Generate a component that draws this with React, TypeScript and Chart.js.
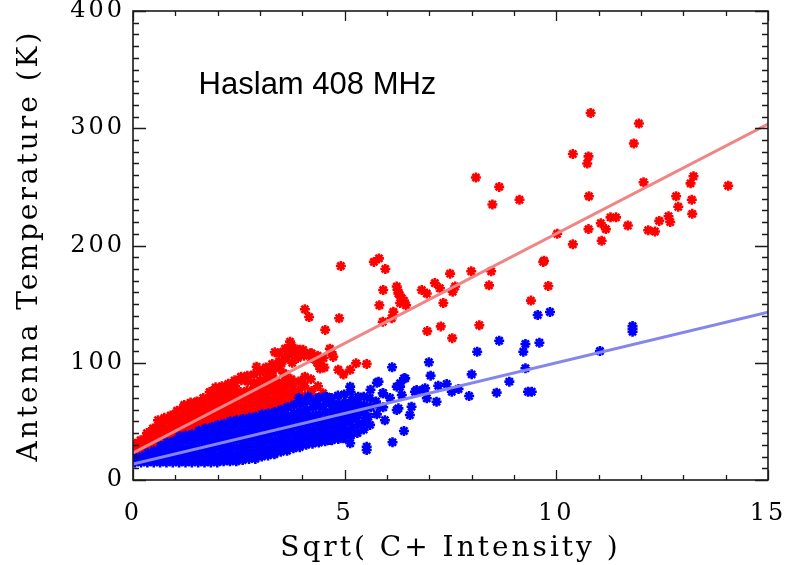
import { useEffect, useRef } from 'react';
import { Chart, registerables } from 'chart.js';

Chart.register(...registerables);

// ---- axis definitions ----
const xTickLabels = [0, 5, 10, 15];
const yTickLabels = [0, 100, 200, 300, 400];
const X_MIN = 0, X_MAX = 15, X_MAJOR = 5, X_MINOR = 1;
const Y_MIN = 0, Y_MAX = 400, Y_MAJOR = 100, Y_MINOR = 10;
const xTitle = 'Sqrt( C+ Intensity )';
const yTitle = 'Antenna Temperature (K)';
const plotLabel = 'Haslam 408 MHz';
const plotLabelPos = [1.55, 329];

// ---- fit lines ----
const redFit = [[0, 23], [15, 303.5]];
const blueFit = [[0, 13.6], [15, 143]];

// ---- red series (dense core, read column by column) ----
const redCore = [
  [0.04,20],[0.06,26],[0.05,31],
  [0.17,23],[0.2,29],[0.18,34],
  [0.31,25],[0.34,31],[0.32,37],[0.33,40],
  [0.45,27],[0.48,33],[0.46,39],[0.47,44],
  [0.59,29],[0.62,35],[0.6,41],[0.61,47],[0.59,51],
  [0.74,32],[0.77,38],[0.75,44],[0.76,50],[0.74,53],
  [0.89,34],[0.92,40],[0.9,46],[0.91,52],[0.89,55],
  [1.04,36],[1.07,42],[1.05,48],[1.06,54],[1.04,59],
  [1.19,38],[1.22,44],[1.2,50],[1.21,56],[1.19,62],[1.21,64],
  [1.34,40],[1.37,46],[1.35,52],[1.36,58],[1.34,64],[1.36,66],
  [1.49,42],[1.52,48],[1.5,54],[1.51,60],[1.49,66],[1.51,67],
  [1.64,43],[1.67,49],[1.65,55],[1.66,61],[1.64,67],[1.66,70],
  [1.79,45],[1.82,51],[1.8,57],[1.81,63],[1.79,69],[1.81,75],
  [1.94,46],[1.97,52],[1.95,58],[1.96,64],[1.94,70],[1.96,76],[1.95,79],
  [2.09,47],[2.12,53],[2.1,59],[2.11,65],[2.09,71],[2.11,77],[2.1,80],
  [2.24,49],[2.27,55],[2.25,61],[2.26,67],[2.24,73],[2.26,79],[2.25,82],
  [2.39,50],[2.42,56],[2.4,62],[2.41,68],[2.39,74],[2.41,80],[2.4,85],
  [2.54,51],[2.57,57],[2.55,63],[2.56,69],[2.54,75],[2.56,85],[2.55,88],
  [2.69,52],[2.72,58],[2.7,64],[2.71,70],[2.69,76],[2.71,84],[2.7,89],
  [2.84,53],[2.87,59],[2.85,65],[2.86,71],[2.84,77],[2.86,83],[2.85,90],
  [2.99,55],[3.02,61],[3,67],[3.01,73],[2.99,79],[3.01,85],[3,92],
  [3.14,56],[3.17,62],[3.15,68],[3.16,74],[3.14,80],[3.16,86],[3.15,92],[3.14,96],
  [3.29,57],[3.32,63],[3.3,69],[3.31,75],[3.29,81],[3.31,87],[3.3,93],[3.29,99],
  [3.44,59],[3.47,65],[3.45,71],[3.46,77],[3.44,83],[3.46,95],[3.45,101],[3.44,108],
  [3.59,60],[3.62,66],[3.6,72],[3.61,78],[3.59,84],[3.61,90],[3.6,104],[3.59,112],
  [3.74,62],[3.77,68],[3.75,74],[3.76,80],[3.74,86],[3.76,100],[3.75,108],[3.74,115],
  [3.89,64],[3.92,70],[3.9,76],[3.91,84],[3.89,104],[3.91,110],
  [4.04,66],[4.07,72],[4.05,80],[4.06,88],[4.04,106],
  [4.19,68],[4.22,76],[4.2,86],[4.21,104],[4.19,108],
  [4.34,70],[4.37,80],[4.35,100],[4.36,106],
  [4.49,74],[4.52,96],[4.5,104],
];

// ---- red series (scattered points) ----
const redScatter = [
  [10.81,313],[11.95,304],[10.39,278],[10.76,276],[10.73,270],[11.83,287],[10.77,242],[12.06,254],
  [10.02,210],[9.69,186],[10.39,201],[10.76,214],[11.05,219],[11.17,214],[11.07,204],[11.28,224],
  [11.41,224],[11.69,217],[12.17,213],[12.33,212],[12.43,221],[12.65,225],[12.69,220],[12.83,242],
  [12.88,233],[13.17,253],[13.24,259],[13.2,239],[13.21,227],[14.06,251],
  [8.1,258],[8.65,250],[8.49,235],[9.13,239],[4.91,182.5],[5.69,186],[5.81,189],[5.96,180],
  [5.91,162],[6.23,165],[6.27,159],[6.35,155],[6.31,151],[6.45,149],[6.3,158],[6.4,153],[6.25,162],
  [5.82,149],[6.15,143.5],[6.11,138],[5.9,135],[6.82,162],[6.94,159],[7.13,168],[7.25,163.5],
  [7.49,176],[7.61,165],[7.55,160.6],[7.33,151],[7.99,178],[8.46,178],[8.41,166],[6.95,127],
  [7.27,131],[7.54,121],[8.18,132],[9.4,153],[9.71,187],[9.81,165.5],[4.06,145.6],[4.16,139],
  [4.87,138],[4.54,128],[4.65,112],
  [4.02,111],[4.22,108],[4.38,99.5],[4.42,95],[4.69,109],[4.73,105],[4.85,94],[4.97,90],
  [5.13,94],[5.27,99.5],[5.52,99],[4.02,81],
  [3.71,118],[3.83,112],[3.95,111],[3.35,109],[3.63,105],[3.51,99.5],[3.55,91],[3.39,82.5],
  [3.47,74],[2.92,96.6],[3.08,94],
];

// ---- blue series (dense core, read column by column) ----
const blueCore = [
  [0.05,15],[0.07,19],
  [0.19,15],[0.22,20],
  [0.34,15],[0.37,20],[0.35,23],
  [0.49,15],[0.52,20],[0.5,25],
  [0.64,15],[0.67,20],[0.65,25],[0.66,29],
  [0.79,15],[0.82,21],[0.8,27],[0.81,32],
  [0.94,15],[0.97,21],[0.95,27],[0.96,33],
  [1.09,15],[1.12,21],[1.1,27],[1.11,33],[1.1,37],
  [1.24,15],[1.27,21],[1.25,27],[1.26,33],[1.24,38],
  [1.39,15],[1.42,21],[1.4,27],[1.41,33],[1.39,39],
  [1.54,15],[1.57,21],[1.55,27],[1.56,33],[1.54,38],[1.56,42],
  [1.69,15],[1.72,21],[1.7,27],[1.71,33],[1.69,39],[1.71,44],
  [1.84,15],[1.87,21],[1.85,27],[1.86,33],[1.84,39],[1.86,45],
  [1.99,15],[2.02,21],[2,27],[2.01,33],[1.99,39],[2.01,44],[2,47],
  [2.14,16],[2.17,22],[2.15,28],[2.16,34],[2.14,40],[2.16,45],[2.15,48],
  [2.29,16],[2.32,22],[2.3,28],[2.31,34],[2.29,40],[2.31,46],[2.3,50],
  [2.44,16],[2.47,22],[2.45,28],[2.46,34],[2.44,40],[2.46,46],[2.45,51],
  [2.59,17],[2.62,23],[2.6,29],[2.61,35],[2.59,41],[2.61,47],[2.6,52],
  [2.74,18],[2.77,24],[2.75,30],[2.76,36],[2.74,42],[2.76,48],[2.75,53],
  [2.89,18],[2.92,24],[2.9,30],[2.91,36],[2.89,42],[2.91,48],[2.9,54],
  [3.04,20],[3.07,26],[3.05,32],[3.06,38],[3.04,44],[3.06,50],[3.05,56],
  [3.19,21],[3.22,27],[3.2,33],[3.21,39],[3.19,45],[3.21,51],[3.2,57],
  [3.34,22],[3.37,28],[3.35,34],[3.36,40],[3.34,46],[3.36,52],[3.35,58],
  [3.49,24],[3.52,30],[3.5,36],[3.51,42],[3.49,48],[3.51,54],[3.5,60],
  [3.64,25],[3.67,31],[3.65,37],[3.66,43],[3.64,49],[3.66,55],[3.65,62],
  [3.79,27],[3.82,33],[3.8,39],[3.81,45],[3.79,51],[3.81,57],[3.8,64],
  [3.94,28],[3.97,34],[3.95,40],[3.96,46],[3.94,52],[3.96,58],[3.95,65],[3.92,70],
  [4.09,30],[4.12,36],[4.1,42],[4.11,48],[4.09,54],[4.11,60],[4.1,67],[4.14,71],
  [4.24,31],[4.27,37],[4.25,43],[4.26,49],[4.24,55],[4.26,62],[4.25,68],
  [4.39,32],[4.42,38],[4.4,44],[4.41,50],[4.39,56],[4.41,63],[4.38,70],
  [4.54,33],[4.57,39],[4.55,45],[4.56,51],[4.54,58],[4.56,65],[4.53,71],
  [4.7,34],[4.72,40],[4.69,46],[4.71,52],[4.7,58],[4.72,64],[4.69,70],
  [4.85,35],[4.87,41],[4.84,47],[4.86,53],[4.85,59],[4.87,65],[4.84,72],
  [5,36],[5.02,42],[4.99,48],[5.01,54],[5,60],[5.02,66],[4.99,73],
  [5.15,38],[5.17,44],[5.14,50],[5.16,56],[5.15,62],[5.17,68],[5.14,75],
  [5.3,40],[5.32,47],[5.29,53],[5.31,59],[5.3,65],[5.32,71],
  [5.45,43],[5.47,50],[5.44,57],[5.46,64],[5.45,71],
  [5.6,47],[5.62,62],[5.59,70],[5.61,77],
  [5.76,56],[5.74,67],[5.76,83],
  [5.91,62],[5.9,74],[5.95,51],
  [6.07,70],
];

// ---- blue series (scattered points) ----
const blueScatter = [
  [9.56,140.7],[9.85,143.3],[11.8,131.3],[11.8,126.5],[11.8,129],[11.03,110],[8.65,118.8],[8.13,109.4],
  [9.27,116],[9.22,109.4],[9.6,117.1],[9.27,95.3],[8.89,83.9],[9.33,75.3],[9.42,75.3],[8.59,74.5],
  [8.0,90.1],[7.94,71.6],[6.99,100.4],[7.03,89],[7.21,80.4],[7.41,81.9],[7.53,75.3],[7.69,77.6],
  [6.94,69.7],[6.86,76.8],[6.66,75.3],[6.4,86.7],[6.35,72.5],[6.58,62.5],[6.54,55.4],[6.4,41.8],
  [6.12,96.1],[6.13,32.2],[5.56,54],[5.52,28.4],[5.13,31.3],[6.27,61.1],[6.31,82.5],[6.43,86.7],
  [6.7,76.8],[6.9,78.2],[7.17,66.8],[5.8,83.9],[6.23,79.6],[5.13,79.6],[4.58,71],[6.23,59.7],
  [5.52,25.6],[4.97,35.6],[4.65,34.1],[6.31,79.6],[5.91,74],[5.83,62],[5.52,62],
];

const toXY = (arr: number[][]) => arr.map(([x, y]) => ({ x, y }));

const SERIF = '"DejaVu Serif", serif';

// wide, spaced lettering for axis text (the reference uses a broad vector font)
const spacingPlugin = {
  id: 'spacing',
  beforeDraw(chart: any) {
    try { (chart.ctx as any).letterSpacing = '3px'; } catch (e) { /* unsupported */ }
  },
};

const framePlugin = {
  id: 'frame',
  afterDatasetsDraw(chart: any) {
    const { ctx, chartArea, scales } = chart;
    const { left, right, top, bottom } = chartArea;
    const xs = scales.x, ys = scales.y;
    ctx.save();
    ctx.strokeStyle = '#1a1a1a';
    ctx.lineWidth = 1.6;
    ctx.strokeRect(left, top, right - left, bottom - top);
    ctx.lineWidth = 1.3;
    ctx.beginPath();
    for (let v = X_MIN; v <= X_MAX + 1e-9; v += X_MINOR) {
      const px = Math.round(xs.getPixelForValue(v)) + 0.5;
      const len = Math.abs(v % X_MAJOR) < 1e-9 ? 10 : 5;
      ctx.moveTo(px, bottom); ctx.lineTo(px, bottom - len);
      ctx.moveTo(px, top); ctx.lineTo(px, top + len);
    }
    for (let v = Y_MIN; v <= Y_MAX + 1e-9; v += Y_MINOR) {
      const py = Math.round(ys.getPixelForValue(v)) + 0.5;
      const len = Math.abs(v % Y_MAJOR) < 1e-9 ? 13 : 6;
      ctx.moveTo(left, py); ctx.lineTo(left + len, py);
      ctx.moveTo(right, py); ctx.lineTo(right - len, py);
    }
    ctx.stroke();
    ctx.fillStyle = '#000';
    try { (ctx as any).letterSpacing = '0px'; } catch (e) { /* unsupported */ }
    ctx.font = '31px "Liberation Sans", Arial, sans-serif';
    ctx.textBaseline = 'alphabetic';
    ctx.textAlign = 'left';
    ctx.fillText(plotLabel, xs.getPixelForValue(plotLabelPos[0]), ys.getPixelForValue(plotLabelPos[1]));
    ctx.restore();
  },
};

export default function App() {
  const ref = useRef<HTMLCanvasElement>(null);
  useEffect(() => {
    const starStyle = (color: string) => ({
      pointStyle: 'star' as const,
      pointRadius: 5,
      pointBorderWidth: 2.6,
      borderColor: color,
      backgroundColor: color,
      pointBorderColor: color,
      pointBackgroundColor: color,
      showLine: false,
      clip: 0,
    });
    const chart = new Chart(ref.current!, {
      type: 'scatter',
      data: {
        datasets: [
          {
            data: toXY(redFit), showLine: true, borderColor: '#ef8585', borderWidth: 3,
            pointRadius: 0, order: 0, clip: 0,
          } as any,
          {
            data: toXY(blueFit), showLine: true, borderColor: '#8585ee', borderWidth: 3,
            pointRadius: 0, order: 0, clip: 0,
          } as any,
          { data: toXY([...blueCore, ...blueScatter]), order: 1, ...starStyle('#0000ff') } as any,
          { data: toXY([...redCore, ...redScatter]), order: 2, ...starStyle('#ff0000') } as any,
        ],
      },
      options: {
        animation: false,
        responsive: false,
        events: [],
        layout: { padding: { left: 0, right: 22, top: 11, bottom: 0 } },
        plugins: { legend: { display: false }, tooltip: { enabled: false } },
        scales: {
          x: {
            type: 'linear',
            min: X_MIN, max: X_MAX,
            grid: { display: false, drawTicks: false },
            border: { display: false },
            ticks: {
              stepSize: X_MAJOR, maxRotation: 0, autoSkip: false, padding: 19,
              color: '#000', font: { family: SERIF, size: 24 },
              callback: (v: any) => (xTickLabels.includes(Number(v)) ? String(v) : ''),
            },
            title: {
              display: true, text: xTitle, color: '#000',
              font: { family: SERIF, size: 28, lineHeight: 1 }, padding: { top: 0, bottom: 2 },
            },
            afterFit: (s: any) => { s.height = 85; s.paddingLeft = 0; s.paddingRight = 0; },
          },
          y: {
            type: 'linear',
            min: Y_MIN, max: Y_MAX,
            grid: { display: false, drawTicks: false },
            border: { display: false },
            ticks: {
              stepSize: Y_MAJOR, autoSkip: false, padding: 8,
              color: '#000', font: { family: SERIF, size: 24 },
              callback: (v: any) => (yTickLabels.includes(Number(v)) ? String(v) : ''),
            },
            title: {
              display: true, text: yTitle, color: '#000',
              font: { family: SERIF, size: 28, lineHeight: 1.2 }, padding: { top: 13, bottom: 0 },
            },
            afterFit: (s: any) => { s.width = 133; s.paddingTop = 0; s.paddingBottom = 0; },
          },
        },
      },
      plugins: [spacingPlugin, framePlugin],
    } as any);
    return () => chart.destroy();
  }, []);
  return (
    <div style={{ position: 'absolute', left: 0, top: 0, width: 790, height: 565, background: '#fff' }}>
      <canvas ref={ref} width={790} height={565} style={{ display: 'block' }} />
    </div>
  );
}
